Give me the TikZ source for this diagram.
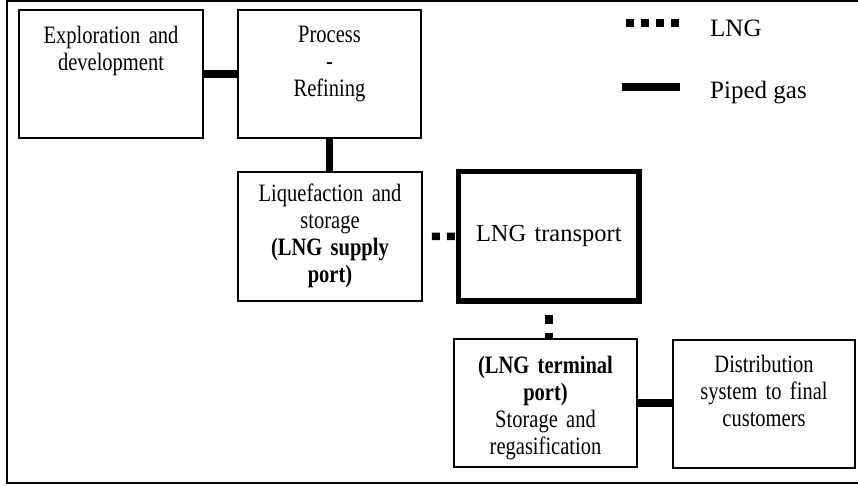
\documentclass[tikz,border=0pt]{standalone}
\usepackage{fontspec}
\setmainfont{Liberation Serif}
\newfontfamily\narrowserif[FakeStretch=0.82, WordSpace=0.8]{Liberation Serif}
\tikzset{
  box/.style={draw, line width=1.8pt, inner sep=0pt, align=center, text width=#1,
    font=\narrowserif\fontsize{25}{27}\selectfont},
  bigbox/.style={draw, line width=5.5pt, inner sep=0pt, align=center, text width=#1,
    font=\fontsize{24.5}{28}\selectfont},
  piped/.style={line width=7.5pt},
  lng/.style={line width=7.5pt, dash pattern=on 8pt off 7pt},
  legtext/.style={inner sep=0pt, anchor=base west, font=\fontsize{25}{28}\selectfont}
}
\begin{document}
\begin{tikzpicture}[x=1pt, y=-1pt]
\useasboundingbox (0,0) rectangle (858,486);
\draw[line width=2pt] (7,1) rectangle (880,483); %frame
\node[box=184pt, text height=34pt, text depth=94pt] (expl) at (111,74) {Exploration and\\development};
\node[box=183pt, text height=33pt, text depth=95pt] (proc) at (329.5,74) {Process\\-\\Refining};
\node[box=184pt, text height=30pt, text depth=99pt] (liq) at (330,236.5) {Liquefaction and\\storage\\\textbf{(LNG supply}\\\textbf{port)}};
\node[bigbox=180.5pt, text height=70pt, text depth=59.5pt] (trans) at (548.8,236.3) {LNG transport};
\node[box=183pt, text height=34pt, text depth=94pt] (term) at (545.5,403) {\textbf{(LNG terminal}\\\textbf{port)}\\Storage and\\regasification};
\node[box=182pt, text height=32pt, text depth=96pt] (dist) at (764,404) {Distribution\\system to final\\customers};
\draw[piped] (expl.east) -- (proc.west); %exploration to process
\draw[piped] (proc.south) -- (proc.south |- liq.north); %process to liquefaction
\draw[lng, shorten <=2pt, dash phase=8pt] (liq.east) -- (trans.west); %supply port to ship
\draw[lng, dash pattern=on 9pt off 9pt, shorten <=2pt, dash phase=9pt] (trans.south) -- (trans.south |- term.north); %ship to terminal
\draw[piped] (term.east) -- (term.east -| dist.west); %terminal to customers
% legend
\coordinate (lngA) at (626,23);
\coordinate (lngB) at (679,23);
\coordinate (pipeA) at (622,87);
\coordinate (pipeB) at (680,87);
\draw[lng] (lngA) -- (lngB);
\draw[piped] (pipeA) -- (pipeB);
\node[legtext] (lnglab) at (710,37) {LNG};
\node[legtext] (pipelab) at (710,99) {Piped gas};
\end{tikzpicture}
\end{document}
